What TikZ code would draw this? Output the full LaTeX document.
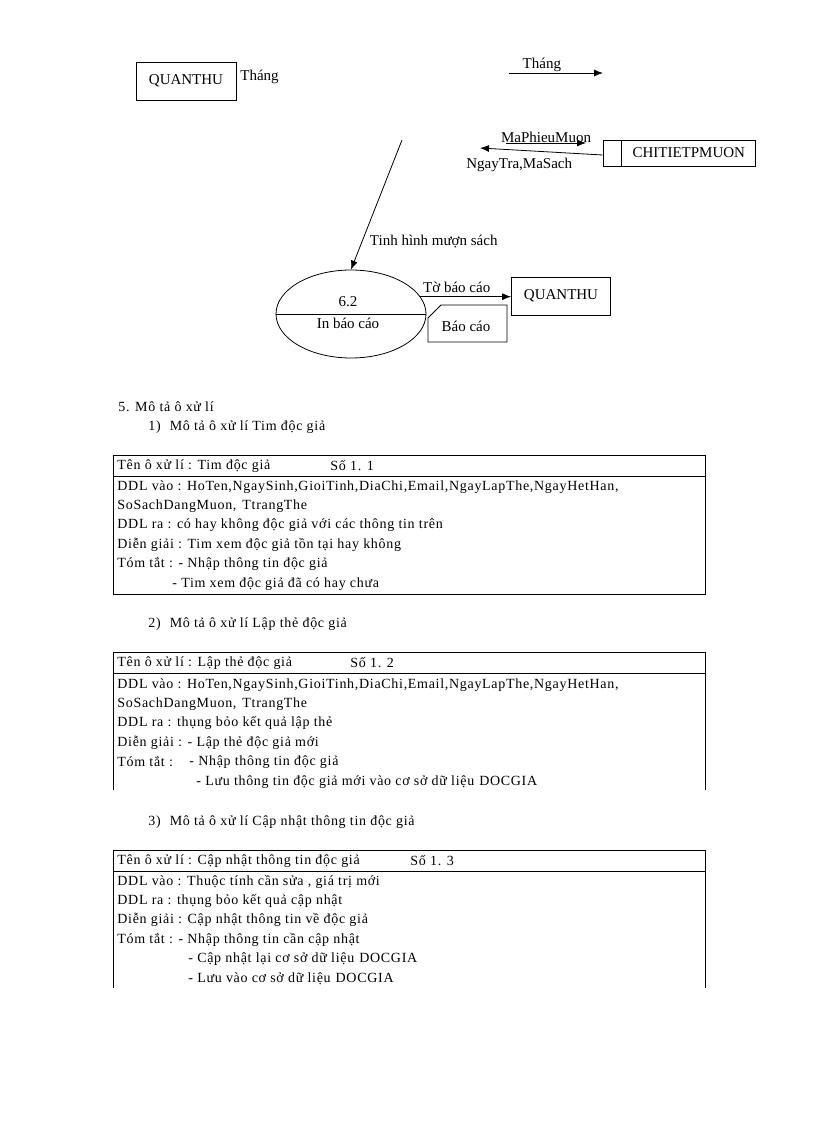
\documentclass[tikz,border=0pt]{standalone}
\usepackage{fontspec}
\setmainfont{Liberation Serif}
\newfontfamily\rowfont[LetterSpace=5]{Liberation Serif}
\usetikzlibrary{arrows.meta, positioning, shapes.geometric}

\tikzset{
  flow/.style={-{Latex[length=9pt, width=7pt]}},
  row/.style={anchor=west, inner sep=0pt, font=\rowfont\fontsize{14}{16}\selectfont},
}

\begin{document}
\begin{tikzpicture}[x=1pt, y=-1pt, line width=0.8pt, font=\fontsize{15}{18}\selectfont]
    \useasboundingbox (0,0) rectangle (816,1123);

    % Thuc the va tien trinh
    \node (quanthuA) [draw, rectangle, minimum width=100pt, minimum height=38pt] at (186,81) {QUANTHU};
    \node (thangA) [anchor=west, inner sep=0pt] at (240,77) {Tháng};
    \node (ctpmid) [draw, rectangle, minimum width=18pt, minimum height=26pt, inner sep=0pt] at (612,153) {};
    \node (ctpm) [draw, rectangle, minimum width=134pt, minimum height=26pt, inner sep=0pt, right=0pt of ctpmid] {CHITIETPMUON};
    \node (proc) [draw, ellipse, minimum width=150pt, minimum height=88pt, inner sep=0pt] at (351,314) {};
    \node (procid) at (348,302) {6.2};
    \node (procname) at (348,323) {In báo cáo};
    \node (quanthuB) [draw, rectangle, minimum width=99pt, minimum height=38pt] at (561,296) {QUANTHU};
    \node (baocao) at (466,326) {Báo cáo};
    \draw (428,318) -- (441,305) -- (507,305) -- (507,342) -- (428,342) -- cycle;
    \draw (proc.west) -- (proc.east);

    % Diem dau cua cac luong
    \coordinate (thangS) at (509,73);
    \coordinate (thangE) at (603,73);
    \coordinate (mpmS) at (506,143);
    \coordinate (mpmE) at (586,143);
    \coordinate (ntE) at (480,148);
    \coordinate (tinhS) at (402,140);

    % Cac luong du lieu
    \draw[flow] (thangS) -- (thangE) node[pos=0.35, above, inner sep=1pt] {Tháng};
    \draw[flow] (mpmS) -- (mpmE) node[midway, above, inner sep=0pt] {MaPhieuMuon};
    \draw[flow] ([yshift=-2pt]ctpmid.west) -- (ntE) node[pos=0.68, below=4pt] {NgayTra,MaSach};
    \draw[flow] (tinhS) -- (proc.north) node[pos=0.78, right=4pt] {Tinh hình mượn sách};
    \draw[flow] (proc.14) -- (quanthuB.west |- proc.14) node[pos=0.4, above] {Tờ báo cáo};

    % Mo ta o xu li
    \node (muc5) [row] at (118,407) {5. Mô tả ô xử lí};
    \node (muc1) [row] at (148,427) {1)\hspace{9pt}Mô tả ô xử lí Tim  độc giả};
    \draw (113,455) rectangle (705,594);
    \draw (113,476) -- (705,476);
    \node (t1ten) [row] at (117,466) {Tên ô xử lí : Tim  độc giả};
    \node (t1so) [row] at (330,466) {Số 1. 1};
    \node (t1a) [row] at (117,487) {DDL vào : HoTen,NgaySinh,GioiTinh,DiaChi,Email,NgayLapThe,NgayHetHan,};
    \node (t1b) [row] at (117,506) {SoSachDangMuon,\hspace{6pt}TtrangThe};
    \node (t1c) [row] at (117,525) {DDL ra : có hay không  độc giả với các thông tin trên};
    \node (t1d) [row] at (117,545) {Diễn giải : Tim xem  độc giả tồn tại hay không};
    \node (t1e) [row] at (117,564) {Tóm tắt : - Nhập thông tin  độc giả};
    \node (t1f) [row] at (172,584) {- Tim  xem  độc giả đã có hay chưa};

    \node (muc2) [row] at (148,624) {2)\hspace{9pt}Mô tả ô xử lí Lập thẻ độc giả};
    \draw (113,790) -- (113,652) -- (705,652) -- (705,790);
    \draw (113,673) -- (705,673);
    \node (t2ten) [row] at (117,663) {Tên ô xử lí : Lập thẻ độc giả};
    \node (t2so) [row] at (350,663) {Số 1. 2};
    \node (t2a) [row] at (117,685) {DDL vào : HoTen,NgaySinh,GioiTinh,DiaChi,Email,NgayLapThe,NgayHetHan,};
    \node (t2b) [row] at (117,704) {SoSachDangMuon,\hspace{6pt}TtrangThe};
    \node (t2c) [row] at (117,723) {DDL ra : thụng  bỏo kết quả lập thẻ};
    \node (t2d) [row] at (117,743) {Diễn giải : - Lập thẻ độc giả mới};
    \node (t2e) [row] at (117,762) {Tóm tắt :};
    \node (t2f) [row] at (189,762) {- Nhập thông tin  độc giả};
    \node (t2g) [row] at (196,782) {- Lưu thông tin  độc giả mới vào cơ sở dữ liệu\hspace{5pt}DOCGIA};

    \node (muc3) [row] at (148,822) {3)\hspace{9pt}Mô tả ô xử lí Cập nhật thông tin  độc giả};
    \draw (113,988) -- (113,850) -- (705,850) -- (705,988);
    \draw (113,871) -- (705,871);
    \node (t3ten) [row] at (117,861) {Tên ô xử lí : Cập nhật thông tin  độc giả};
    \node (t3so) [row] at (410,861) {Số 1. 3};
    \node (t3a) [row] at (117,882) {DDL vào : Thuộc  tính  cần sửa , giá  trị mới};
    \node (t3b) [row] at (117,901) {DDL ra : thụng  bỏo kết quả cập nhật};
    \node (t3c) [row] at (117,920) {Diễn giải : Cập nhật  thông tin về độc giả};
    \node (t3d) [row] at (117,940) {Tóm tắt : - Nhập thông tin  cần cập nhật};
    \node (t3e) [row] at (188,959) {- Cập nhật  lại  cơ sở dữ liệu\hspace{5pt}DOCGIA};
    \node (t3f) [row] at (188,979) {- Lưu vào cơ sở dữ liệu\hspace{5pt}DOCGIA};
\end{tikzpicture}
\end{document}
